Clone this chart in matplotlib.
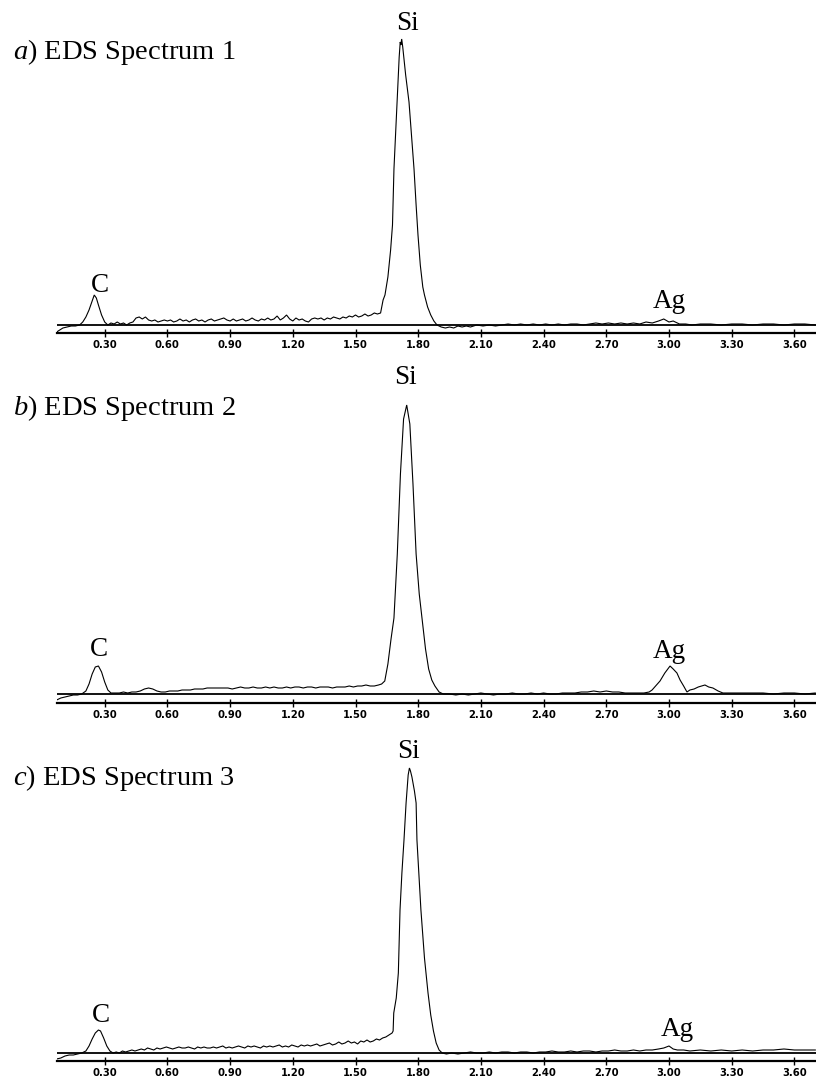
import matplotlib
matplotlib.use("Agg")
import matplotlib.pyplot as plt
from matplotlib import font_manager

# ---------------- data (energy keV, counts in relative units) ----------------
a_energy = [0.07, 0.085, 0.10, 0.12, 0.14, 0.16, 0.18, 0.195, 0.21, 0.225, 0.24, 0.25, 0.26, 0.27, 0.285,
            0.30, 0.315, 0.33, 0.345, 0.36, 0.375, 0.39, 0.405, 0.42, 0.435, 0.45, 0.465, 0.48, 0.495,
            0.51, 0.525, 0.54, 0.555, 0.57, 0.585, 0.60, 0.615, 0.63, 0.645, 0.66, 0.675, 0.69, 0.705,
            0.72, 0.735, 0.75, 0.765, 0.78, 0.795, 0.81, 0.825, 0.84, 0.855, 0.87, 0.885, 0.90, 0.915,
            0.93, 0.945, 0.96, 0.975, 0.99, 1.005, 1.02, 1.035, 1.05, 1.065, 1.08, 1.095, 1.11, 1.125,
            1.14, 1.155, 1.17, 1.185, 1.20, 1.215, 1.23, 1.245, 1.26, 1.275, 1.29, 1.305, 1.32, 1.335,
            1.35, 1.365, 1.38, 1.395, 1.41, 1.425, 1.44, 1.455, 1.47, 1.485, 1.50, 1.515, 1.53, 1.545,
            1.56, 1.575, 1.59, 1.605, 1.62, 1.632, 1.641, 1.655, 1.668, 1.677, 1.684, 1.699, 1.709,
            1.714, 1.717, 1.721, 1.726, 1.74, 1.756, 1.768, 1.78, 1.79, 1.799, 1.81, 1.822, 1.83, 1.845,
            1.86, 1.875, 1.89, 1.91, 1.93, 1.95, 1.97, 1.99, 2.01, 2.03, 2.05, 2.08, 2.11, 2.14, 2.17,
            2.20, 2.23, 2.26, 2.29, 2.32, 2.35, 2.38, 2.41, 2.44, 2.47, 2.50, 2.53, 2.56, 2.59, 2.62,
            2.65, 2.68, 2.71, 2.74, 2.77, 2.80, 2.83, 2.86, 2.89, 2.92, 2.95, 2.975, 3.00, 3.02, 3.05,
            3.08, 3.11, 3.15, 3.20, 3.25, 3.30, 3.35, 3.40, 3.45, 3.50, 3.55, 3.60, 3.65, 3.70]
a_counts = [-7, -5, -3, -2, -1, -1, 0, 3, 8, 15, 24, 30, 27, 20, 10,
            3, 0, 2, 1, 3, 1, 2, 0, 2, 3, 7, 8, 6, 8,
            5, 4, 5, 3, 4, 5, 4, 5, 3, 4, 6, 4, 5, 3,
            5, 6, 4, 5, 3, 5, 6, 4, 5, 6, 7, 5, 4, 6,
            4, 5, 6, 4, 5, 7, 5, 4, 6, 5, 7, 5, 6, 9,
            5, 7, 10, 6, 4, 7, 5, 6, 4, 3, 6, 7, 6, 7,
            5, 7, 6, 8, 7, 6, 8, 7, 9, 8, 10, 8, 9, 11,
            9, 10, 12, 11, 12, 25, 30, 48, 75, 100, 156, 223, 268,
            283, 280, 286, 278, 250, 223, 190, 156, 120, 90, 60, 38, 30, 18,
            10, 4, 0, -2, -3, -2, -3, -1, -2, -1, -2, 0, -1, 0, -1,
            0, 1, 0, 1, 0, 1, 0, 1, 0, 1, 0, 1, 1, 0, 1,
            2, 1, 2, 1, 2, 1, 2, 1, 3, 2, 4, 6, 3, 4, 1,
            1, 0, 1, 1, 0, 1, 1, 0, 1, 1, 0, 1, 1, 0]

b_energy = [0.07, 0.09, 0.11, 0.13, 0.15, 0.17, 0.19, 0.21, 0.225, 0.24, 0.255, 0.27, 0.285, 0.30, 0.315,
            0.33, 0.35, 0.37, 0.39, 0.41, 0.43, 0.45, 0.47, 0.49, 0.51, 0.53, 0.55, 0.57, 0.59, 0.61,
            0.63, 0.65, 0.67, 0.69, 0.71, 0.73, 0.75, 0.77, 0.79, 0.81, 0.83, 0.85, 0.87, 0.89, 0.91,
            0.93, 0.95, 0.97, 0.99, 1.01, 1.03, 1.05, 1.07, 1.09, 1.11, 1.13, 1.15, 1.17, 1.19, 1.21,
            1.23, 1.25, 1.27, 1.29, 1.31, 1.33, 1.35, 1.37, 1.39, 1.41, 1.43, 1.45, 1.47, 1.49, 1.51,
            1.53, 1.55, 1.57, 1.59, 1.61, 1.625, 1.64, 1.655, 1.67, 1.684, 1.70, 1.715, 1.73, 1.745,
            1.76, 1.775, 1.79, 1.805, 1.818, 1.835, 1.85, 1.865, 1.88, 1.90, 1.92, 1.95, 1.98, 2.01,
            2.04, 2.07, 2.10, 2.13, 2.16, 2.19, 2.22, 2.25, 2.28, 2.31, 2.34, 2.37, 2.40, 2.43, 2.46,
            2.49, 2.52, 2.55, 2.58, 2.61, 2.64, 2.67, 2.70, 2.73, 2.76, 2.79, 2.82, 2.85, 2.88, 2.905,
            2.919, 2.94, 2.957, 2.98, 3.005, 3.02, 3.038, 3.053, 3.07, 3.086, 3.10, 3.12, 3.14, 3.172,
            3.19, 3.21, 3.235, 3.258, 3.28, 3.31, 3.35, 3.40, 3.45, 3.50, 3.55, 3.60, 3.65, 3.70]
b_counts = [-6, -4, -3, -2, -1, -1, 0, 3, 10, 20, 27, 28, 22, 12, 4,
            1, 1, 1, 2, 1, 2, 2, 3, 5, 6, 5, 3, 2, 2, 3,
            3, 3, 4, 4, 4, 5, 5, 5, 6, 6, 6, 6, 6, 6, 5,
            6, 7, 6, 6, 7, 6, 6, 7, 6, 7, 6, 6, 7, 6, 7,
            7, 6, 7, 7, 6, 7, 7, 7, 6, 7, 7, 7, 8, 7, 8,
            8, 9, 8, 8, 9, 10, 13, 30, 55, 76, 140, 220, 275, 289,
            270, 210, 140, 100, 76, 45, 25, 14, 8, 2, 0, 0, -1, 0,
            -1, 0, 1, 0, -1, 0, 0, 1, 0, 0, 1, 0, 1, 0, 0,
            1, 1, 1, 2, 2, 3, 2, 3, 2, 2, 1, 1, 1, 1, 2,
            4, 9, 13, 21, 28, 25, 21, 14, 8, 2, 4, 5, 7, 9,
            7, 6, 3, 1, 1, 1, 1, 1, 1, 0, 1, 1, 0, 1]

c_energy = [0.07, 0.09, 0.11, 0.13, 0.15, 0.17, 0.19, 0.21, 0.225, 0.24, 0.255, 0.27, 0.28, 0.295, 0.31,
            0.325, 0.34, 0.355, 0.37, 0.385, 0.40, 0.415, 0.43, 0.445, 0.46, 0.475, 0.49, 0.505, 0.52,
            0.535, 0.55, 0.565, 0.58, 0.595, 0.61, 0.625, 0.64, 0.655, 0.67, 0.685, 0.70, 0.715, 0.73,
            0.745, 0.76, 0.775, 0.79, 0.805, 0.82, 0.835, 0.85, 0.865, 0.88, 0.895, 0.91, 0.925, 0.94,
            0.955, 0.97, 0.985, 1.00, 1.015, 1.03, 1.045, 1.06, 1.075, 1.09, 1.105, 1.12, 1.135, 1.15,
            1.165, 1.18, 1.195, 1.21, 1.225, 1.24, 1.255, 1.27, 1.285, 1.30, 1.315, 1.33, 1.345, 1.36,
            1.375, 1.39, 1.405, 1.42, 1.435, 1.45, 1.465, 1.48, 1.495, 1.51, 1.525, 1.54, 1.555, 1.57,
            1.585, 1.60, 1.615, 1.63, 1.645, 1.66, 1.675, 1.68, 1.683, 1.695, 1.705, 1.713, 1.722,
            1.732, 1.742, 1.752, 1.758, 1.763, 1.770, 1.782, 1.79, 1.794, 1.803, 1.813, 1.83, 1.847,
            1.86, 1.873, 1.886, 1.90, 1.915, 1.935, 1.96, 1.99, 2.02, 2.05, 2.08, 2.11, 2.14, 2.17,
            2.20, 2.23, 2.26, 2.29, 2.32, 2.35, 2.38, 2.41, 2.44, 2.47, 2.50, 2.53, 2.56, 2.59, 2.62,
            2.65, 2.68, 2.71, 2.74, 2.77, 2.80, 2.83, 2.86, 2.89, 2.92, 2.95, 2.975, 3.00, 3.02, 3.04,
            3.07, 3.10, 3.15, 3.20, 3.25, 3.30, 3.35, 3.40, 3.45, 3.50, 3.55, 3.60, 3.65, 3.70]
c_counts = [-6, -5, -3, -2, -2, -1, 0, 2, 7, 14, 20, 23, 22, 15, 7,
            2, 0, 1, 0, 2, 1, 2, 3, 2, 3, 4, 3, 5, 4,
            3, 5, 4, 5, 6, 5, 4, 5, 6, 5, 5, 6, 5, 4,
            6, 5, 6, 5, 5, 6, 5, 6, 7, 5, 6, 5, 6, 7,
            6, 5, 7, 6, 7, 6, 5, 7, 6, 7, 6, 7, 8, 6,
            7, 6, 8, 7, 6, 8, 7, 8, 7, 8, 9, 7, 8, 9,
            10, 8, 9, 11, 9, 10, 12, 10, 11, 9, 12, 11, 13, 11,
            12, 14, 13, 15, 16, 18, 20, 22, 40, 55, 80, 143, 180,
            213, 250, 278, 285, 282, 276, 262, 250, 213, 180, 143, 95, 60,
            38, 22, 10, 3, 0, -1, 0, -1, 0, 1, 0, 0, 1, 0,
            1, 1, 0, 1, 1, 0, 1, 1, 2, 1, 1, 2, 1, 2, 2,
            1, 2, 2, 3, 2, 2, 3, 2, 3, 3, 4, 5, 7, 4, 3,
            3, 2, 3, 2, 3, 2, 3, 2, 3, 3, 4, 3, 3, 3]

tick_values = [0.30, 0.60, 0.90, 1.20, 1.50, 1.80, 2.10, 2.40, 2.70, 3.00, 3.30, 3.60]
tick_labels = ["0.30", "0.60", "0.90", "1.20", "1.50", "1.80", "2.10", "2.40", "2.70", "3.00", "3.30", "3.60"]

panel_letters = ["a", "b", "c"]
panel_titles = [") EDS Spectrum 1", ") EDS Spectrum 2", ") EDS Spectrum 3"]
peak_names = ["C", "Si", "Ag"]

# ---------------- layout (pixels) ----------------
W, H = 816, 1081
DPI = 100
serif = "Liberation Serif"

# look for a condensed bold sans font for the tick labels
tick_fp = None
for f in font_manager.fontManager.ttflist:
    fn = f.fname.lower()
    if ("narrow" in fn or "condensed" in fn) and "bold" in fn and "oblique" not in fn and "italic" not in fn:
        tick_fp = font_manager.FontProperties(fname=f.fname, size=8)
        break
if tick_fp is None:
    tick_fp = font_manager.FontProperties(family="DejaVu Sans", weight="bold", size=7.5)

plt.rcParams["mathtext.fontset"] = "custom"
plt.rcParams["mathtext.rm"] = serif
plt.rcParams["mathtext.it"] = serif + ":italic"

fig = plt.figure(figsize=(W / DPI, H / DPI), dpi=DPI)

x_left_px, x_right_px = 57, 816
px_per_kev = 209.0
zero_px = 42.0
xlim = ((x_left_px - zero_px) / px_per_kev, (x_right_px - zero_px) / px_per_kev)

panels = [
    # energy, counts, baseline_px, axis_px, top_px, title_y, label positions (C, Si, Ag)
    (a_energy, a_counts, 325, 333, 5, 52, [(100, 285), (407, 23), (669, 302)]),
    (b_energy, b_counts, 694, 703, 370, 408, [(99, 650), (405, 377), (669, 652)]),
    (c_energy, c_counts, 1053, 1061, 740, 778, [(101, 1015), (408, 752), (677, 1030)]),
]

for i, (en, ct, base_px, axis_px, top_px, title_y, lbls) in enumerate(panels):
    gap = axis_px - base_px
    ax = fig.add_axes([x_left_px / W, 1 - axis_px / H, (x_right_px - x_left_px) / W, (axis_px - top_px) / H])
    ax.set_xlim(*xlim)
    ax.set_ylim(-gap, base_px - top_px)
    ax.plot(en, ct, color="black", lw=0.8, solid_joinstyle="miter")
    ax.axhline(0, color="black", lw=1.3)
    for s in ["top", "left", "right"]:
        ax.spines[s].set_visible(False)
    ax.spines["bottom"].set_linewidth(1.6)
    ax.set_yticks([])
    ax.set_xticks(tick_values)
    ax.set_xticklabels(tick_labels)
    for lab in ax.get_xticklabels():
        lab.set_fontproperties(tick_fp)
    ax.tick_params(axis="x", direction="inout", length=6, width=1.0, pad=2, colors="black")
    ax.patch.set_alpha(0)

    fig.text(13 / W, 1 - title_y / H, r"$\mathit{" + panel_letters[i] + "}$" + panel_titles[i],
             fontfamily=serif, fontsize=20.5, ha="left", va="center")
    for name, (lx, ly) in zip(peak_names, lbls):
        fig.text(lx / W, 1 - ly / H, name, fontfamily=serif, fontsize=19.5, ha="center", va="center")

fig.savefig("out.png", dpi=DPI)
